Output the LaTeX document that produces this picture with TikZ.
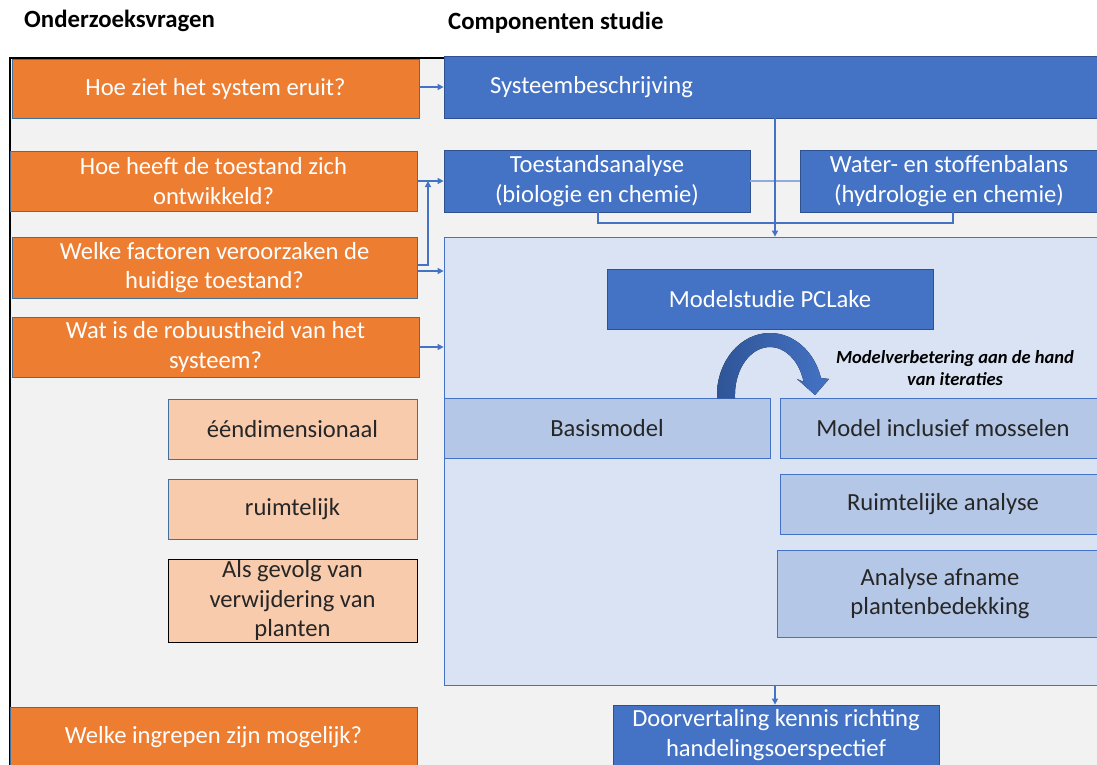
\documentclass[tikz,border=0pt]{standalone}
\usepackage{fontspec}
\setmainfont{Carlito}
\usetikzlibrary{arrows.meta}

\definecolor{canvasgray}{HTML}{F2F2F2}
\definecolor{qorange}{HTML}{ED7D31}
\definecolor{qborder}{HTML}{41719C}
\definecolor{peach}{HTML}{F8CBAD}
\definecolor{mainblue}{HTML}{4472C4}
\definecolor{darkblue}{HTML}{2F528F}
\definecolor{deepblue}{HTML}{2F5597}
\definecolor{paleblue}{HTML}{DAE3F3}
\definecolor{midblue}{HTML}{B4C7E7}
\definecolor{lineblue}{HTML}{8FAADC}
\definecolor{darktext}{HTML}{262626}

\tikzset{
  box/.style={rectangle, inner sep=0pt, align=center, line width=0.8pt,
    font=\fontsize{24.6}{29.3}\selectfont},
  question/.style={box, fill=qorange, draw=qborder, text=white},
  aspect/.style={box, fill=peach, draw=qborder, text=darktext},
  study/.style={box, fill=mainblue, draw=darkblue, text=white},
  part/.style={box, fill=midblue, draw=mainblue, text=darktext},
  link/.style={draw=mainblue, line width=1.2pt, -{Triangle[length=6pt,width=6pt]}},
  plain/.style={draw=mainblue, line width=1.2pt},
  paleline/.style={draw=lineblue, line width=1.2pt},
  heading/.style={anchor=west, inner sep=0pt, text=black,
    font=\fontsize{24.8}{28}\selectfont\bfseries}
}

\begin{document}
\begin{tikzpicture}[x=1pt,y=-1pt]
\useasboundingbox (0,0) rectangle (1097,765);
\clip (0,0) rectangle (1097,765);

% working area with its frame
\fill[canvasgray] (10,58) rectangle (1097,765);
\draw[black, line width=1.5pt] (10,765) -- (10,58) -- (444,58);

% column headings
\node[heading] (hq) at (24,21) {Onderzoeksvragen};
\node[heading] (hs) at (448,23) {Componenten studie};

% research questions
\node[question, minimum width=407pt, minimum height=59pt] (q1) at (215.5,88.5) {Hoe ziet het system eruit?};
\node[question, minimum width=407pt, minimum height=60pt] (q2) at (213.5,181) {Hoe heeft de toestand zich\\ontwikkeld?};
\node[question, minimum width=405pt, minimum height=61pt] (q3) at (214.5,267.5) {Welke factoren veroorzaken de\\huidige toestand?};
\node[question, minimum width=407pt, minimum height=60pt] (q4) at (215.5,347) {Wat is de robuustheid van het\\systeem?};
\node[question, minimum width=407pt, minimum height=60pt] (q5) at (213.5,737) {Welke ingrepen zijn mogelijk?};

% aspects of robustness
\node[aspect, minimum width=249pt, minimum height=60pt] (a1) at (292.5,429) {ééndimensionaal};
\node[aspect, minimum width=249pt, minimum height=60pt] (a2) at (292.5,509) {ruimtelijk};
\node[aspect, draw=black, minimum width=249pt, minimum height=83pt] (a3) at (292.5,600.5) {Als gevolg van\\verwijdering van\\planten};

% study components
\node[study, minimum width=676pt, minimum height=62pt, text width=584pt, inner xsep=46pt, align=left] (sys) at (782,87) {Systeembeschrijving};
\node[study, minimum width=306pt, minimum height=62pt] (toe) at (597,181) {Toestandsanalyse\\(biologie en chemie)};
\node[study, minimum width=298pt, minimum height=62pt] (wat) at (949,181) {Water- en stoffenbalans\\(hydrologie en chemie)};

% model study area
\node[box, fill=paleblue, draw=mainblue, minimum width=676pt, minimum height=448pt] (big) at (782,461) {};
\node[study, minimum width=326pt, minimum height=60pt] (pcl) at (770,299) {Modelstudie PCLake};
\node[part, minimum width=326pt, minimum height=60pt] (bas) at (607,428) {Basismodel};
\node[part, minimum width=326pt, minimum height=60pt] (mos) at (943,428) {Model inclusief mosselen};
\node[part, minimum width=326pt, minimum height=60pt] (rui) at (943,504) {Ruimtelijke analyse};
\node[part, minimum width=326pt, minimum height=87pt] (ana) at (940,593.5) {Analyse afname\\plantenbedekking};

\node[study, minimum width=326pt, minimum height=60pt] (doo) at (776,735) {Doorvertaling kennis richting\\handelingsoerspectief};

% iteration arrow from the base model to the extended model
\fill[left color=deepblue, right color=mainblue]
  (717,398) -- (717,395)
  arc[start angle=180, end angle=344, x radius=53, y radius=62]
  -- (829,379) -- (815,395) -- (797,379) -- (803.6,381.8)
  arc[start angle=344, end angle=180, x radius=35, y radius=48]
  -- (735,398) -- cycle;
\node[font=\fontsize{18.5}{21.5}\selectfont\bfseries\itshape, align=center, text=black, inner sep=0pt] (iter) at (955,368) {Modelverbetering aan de hand\\van iteraties};

% connectors
\coordinate (branch) at (428,265);
\coordinate (lowtap) at (417,271);
\coordinate (drop) at (775,0);
\coordinate (bl) at (598,223);
\coordinate (br) at (953,223);

\draw[link] (q1.east |- sys.west) -- (sys.west);
\draw[link] (q2.east) -- (toe.west);
\draw[link] (q3.east |- branch) -- (branch) -- (branch |- q2.east);
\draw[link] (lowtap) -- (big.west |- lowtap);
\draw[link] (q4.east) -- (big.west |- q4.east);

\draw[paleline] (toe.east) -- (wat.west);
\draw[plain] (toe.south -| bl) -- (bl) -- (br) -- (wat.south -| br);
\draw[link] (sys.south -| drop) -- (big.north -| drop);
\draw[link] (big.south -| drop) -- (doo.north -| drop);
\end{tikzpicture}
\end{document}
